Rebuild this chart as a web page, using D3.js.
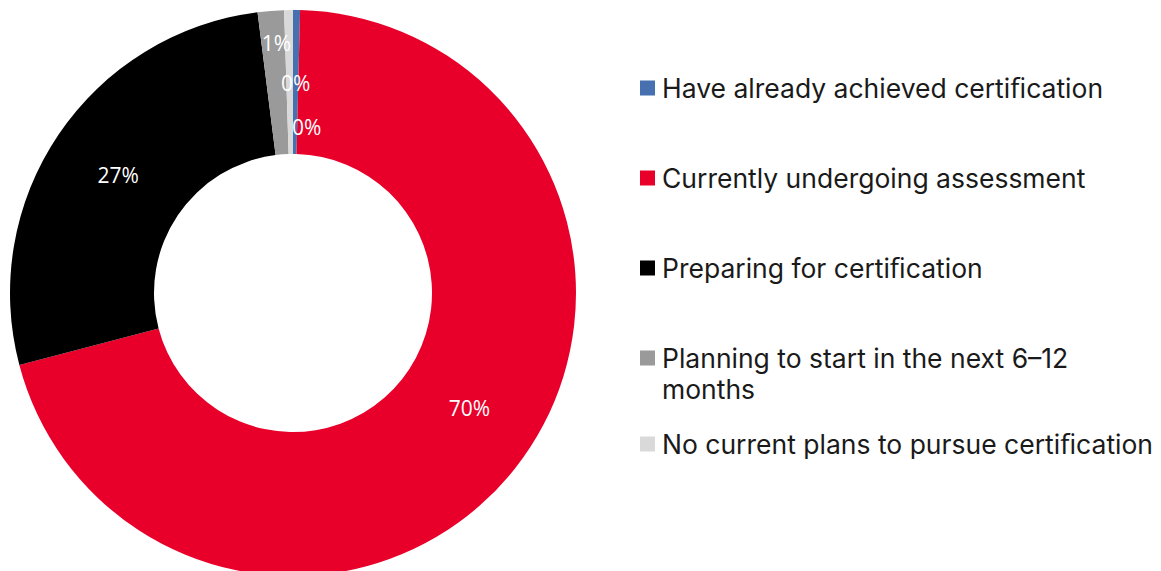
<!DOCTYPE html>
<html>
<head>
<meta charset="utf-8">
<script src="https://cdn.jsdelivr.net/npm/d3@7"></script>
<style>
  html, body { margin: 0; padding: 0; background: #ffffff; }
  svg { display: block; }
</style>
</head>
<body>
<svg id="chart" width="1161" height="571"></svg>
<script>
// Certification status of respondents (share of total, %)
const categories = [
  "Have already achieved certiﬁcation",
  "Currently undergoing assessment",
  "Preparing for certiﬁcation",
  "Planning to start in the next 6–12 months",
  "No current plans to pursue certiﬁcation"
];
const values = [0.4, 70.5, 27.1, 1.5, 0.5];
const valueLabels = ["0%", "70%", "27%", "1%", "0%"];
const colors = ["#4670b0", "#e8002b", "#000000", "#9a9a9a", "#d9d9d9"];

// Legend lines (long entries wrap onto a second line)
const legendLines = [
  ["Have already achieved certiﬁcation"],
  ["Currently undergoing assessment"],
  ["Preparing for certiﬁcation"],
  ["Planning to start in the next 6–12", "months"],
  ["No current plans to pursue certiﬁcation"]
];

const svg = d3.select("#chart");
const cx = 293, cy = 293;
const outerR = 283, innerR = 139;

const data = categories.map((c, i) => ({ name: c, value: values[i], label: valueLabels[i], color: colors[i] }));

const pie = d3.pie().value(d => d.value).sort(null);
const arcs = pie(data);
const arc = d3.arc().innerRadius(innerR).outerRadius(outerR);

const g = svg.append("g").attr("transform", `translate(${cx},${cy})`);

g.selectAll("path.slice")
  .data(arcs)
  .join("path")
  .attr("class", "slice")
  .attr("d", arc)
  .attr("fill", d => d.data.color);

// Data labels sit on the middle of the ring; thin slices near the top are
// stacked so their labels do not collide.
const labelNudge = [
  { dx: 11, dy: 45 },
  { dx: 11, dy: -16 },
  { dx: 0, dy: 0 },
  { dx: 0, dy: -40 },
  { dx: 6, dy: 1 }
];
const labelArc = d3.arc().innerRadius(innerR).outerRadius(outerR);

g.selectAll("text.value")
  .data(arcs)
  .join("text")
  .attr("class", "value")
  .attr("x", (d, i) => labelArc.centroid(d)[0] + labelNudge[i].dx)
  .attr("y", (d, i) => labelArc.centroid(d)[1] + labelNudge[i].dy)
  .attr("text-anchor", "middle")
  .attr("dominant-baseline", "central")
  .attr("fill", "#ffffff")
  .attr("font-family", "'Open Sans', 'Noto Sans', sans-serif")
  .attr("font-size", 21)
  .text(d => d.data.label);

// Legend
const legendX = 640;
const rowY = [88, 178, 268, 358, 444];
const lineH = 31;

const legend = svg.append("g")
  .attr("font-family", "Inter, 'Noto Sans', sans-serif")
  .attr("font-size", 26.5)
  .attr("fill", "#1a1a1a");

legendLines.forEach((lines, i) => {
  const row = legend.append("g").attr("transform", `translate(${legendX},${rowY[i]})`);
  row.append("rect")
    .attr("x", 0).attr("y", -7.5)
    .attr("width", 15).attr("height", 15)
    .attr("fill", colors[i]);
  const t = row.append("text").attr("x", 22).attr("y", 0).attr("dominant-baseline", "central");
  lines.forEach((ln, j) => {
    t.append("tspan").attr("x", 22).attr("dy", j === 0 ? 0 : lineH).text(ln);
  });
});
</script>
</body>
</html>
